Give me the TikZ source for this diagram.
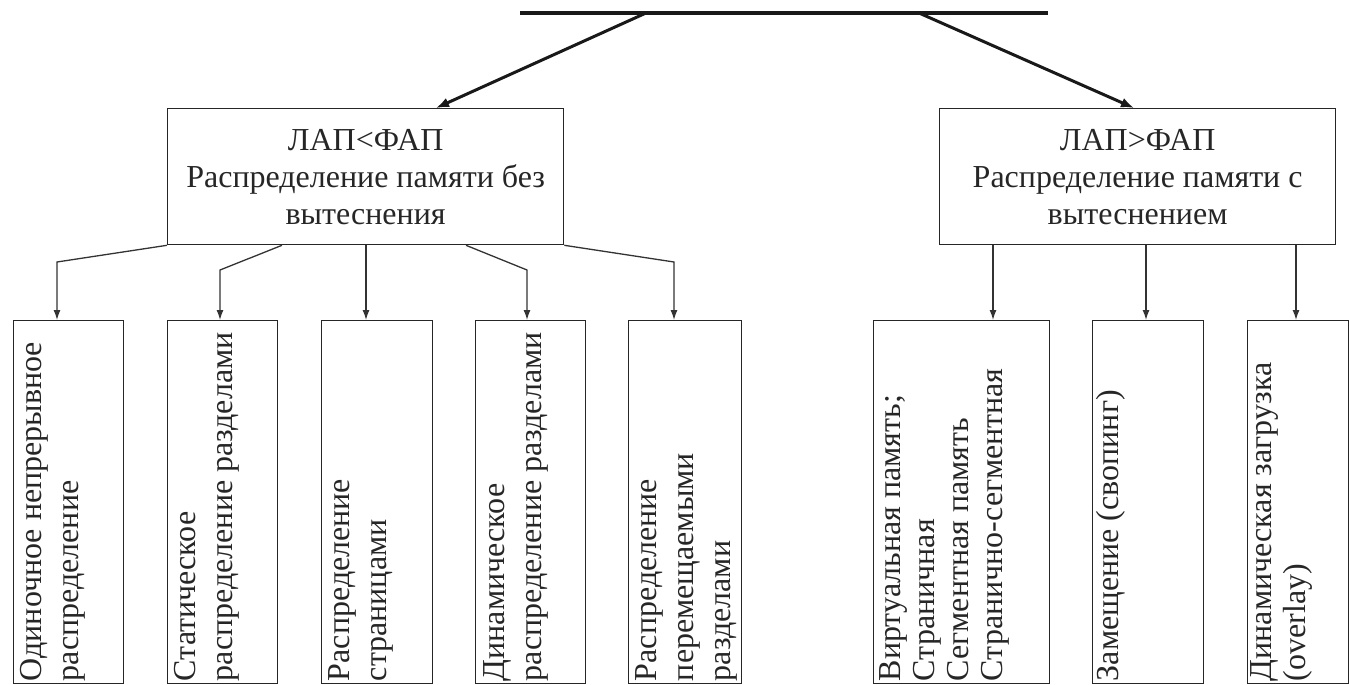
\documentclass[tikz,border=0pt]{standalone}
\usepackage{fontspec}
\setmainfont{Liberation Serif}
\usetikzlibrary{arrows.meta}
\tikzset{
  box/.style={draw=black!85, line width=1.3pt, inner sep=0pt, anchor=north west},
  vtext/.style={rotate=90, anchor=north west, inner sep=0pt, align=left, font=\fontsize{32}{37}\selectfont, text=black!85},
  htext/.style={inner sep=0pt, align=center, font=\fontsize{32}{37}\selectfont, text=black!85},
  conn/.style={draw=black!80, line width=1.3pt, -{Latex[length=10pt,width=7pt]}},
  bigarrow/.style={draw=black!90, line width=3pt, -{Latex[length=13pt,width=10pt]}},
}
\begin{document}
\begin{tikzpicture}[x=1pt,y=-1pt]
\useasboundingbox (0,0) rectangle (1350,685);
% top bar
\coordinate (tl) at (520,13);
\coordinate (tr) at (1048,13);
\draw[line width=4pt, black!90] (tl) -- (tr);
\coordinate (sa) at (646,13);
\coordinate (sb) at (919,13);
% upper boxes
\node[box, minimum width=396pt, minimum height=136pt] (L) at (167,108) {};
\node[box, minimum width=396pt, minimum height=136pt] (R) at (939,108) {};
\node[htext] (Lt) at (L.center) {ЛАП<ФАП\\Распределение памяти без\\вытеснения};
\node[htext] (Rt) at (R.center) {ЛАП>ФАП\\Распределение памяти с\\вытеснением};
\draw[bigarrow] (sa) -- (436,0 |- L.north);
\draw[bigarrow] (sb) -- (1134,0 |- R.north);
% lower boxes
\node[box, minimum width=110pt, minimum height=363pt] (b1) at (13,320) {};
\node[box, minimum width=110pt, minimum height=363pt] (b2) at (167,320) {};
\node[box, minimum width=111pt, minimum height=363pt] (b3) at (321,320) {};
\node[box, minimum width=110pt, minimum height=363pt] (b4) at (475,320) {};
\node[box, minimum width=113pt, minimum height=363pt] (b5) at (628,320) {};
\node[box, minimum width=176pt, minimum height=363pt] (b6) at (873,320) {};
\node[box, minimum width=111pt, minimum height=363pt] (b7) at (1092,320) {};
\node[box, minimum width=101pt, minimum height=363pt] (b8) at (1247,320) {};
% texts
\node[vtext] (t1) at ([shift={(7,-3)}]b1.south west) {Одиночное непрерывное\\распределение};
\node[vtext] (t2) at ([shift={(7,-3)}]b2.south west) {Статическое\\распределение разделами};
\node[vtext] (t3) at ([shift={(7,-3)}]b3.south west) {Распределение\\страницами};
\node[vtext] (t4) at ([shift={(8,-3)}]b4.south west) {Динамическое\\распределение разделами};
\node[vtext] (t5) at ([shift={(7,-3)}]b5.south west) {Распределение\\перемещаемыми\\разделами};
\node[vtext, font=\fontsize{32}{34}\selectfont] (t6) at ([shift={(6,-3)}]b6.south west) {Виртуальная память;\\Страничная\\Сегментная память\\Странично-сегментная};
\node[vtext] (t7) at ([shift={(4,-3)}]b7.south west) {Замещение (свопинг)};
\node[vtext, font=\fontsize{32}{34}\selectfont] (t8) at ([shift={(3,-3)}]b8.south west) {Динамическая загрузка\\(overlay)};
% connectors left
\draw[conn] (L.south west) -- (57,262) -- (57,262 |- b1.north);
\draw[conn] (282,0 |- L.south) -- (220,270) -- (220,270 |- b2.north);
\draw[conn] (366,0 |- L.south) -- (366,0 |- b3.north);
\draw[conn] (466,0 |- L.south) -- (527,270) -- (527,270 |- b4.north);
\draw[conn] (L.south east) -- (674,262) -- (674,262 |- b5.north);
% connectors right
\draw[conn] (993,0 |- R.south) -- (993,0 |- b6.north);
\draw[conn] (1146,0 |- R.south) -- (1146,0 |- b7.north);
\draw[conn] (1296,0 |- R.south) -- (1296,0 |- b8.north);
\end{tikzpicture}
\end{document}
